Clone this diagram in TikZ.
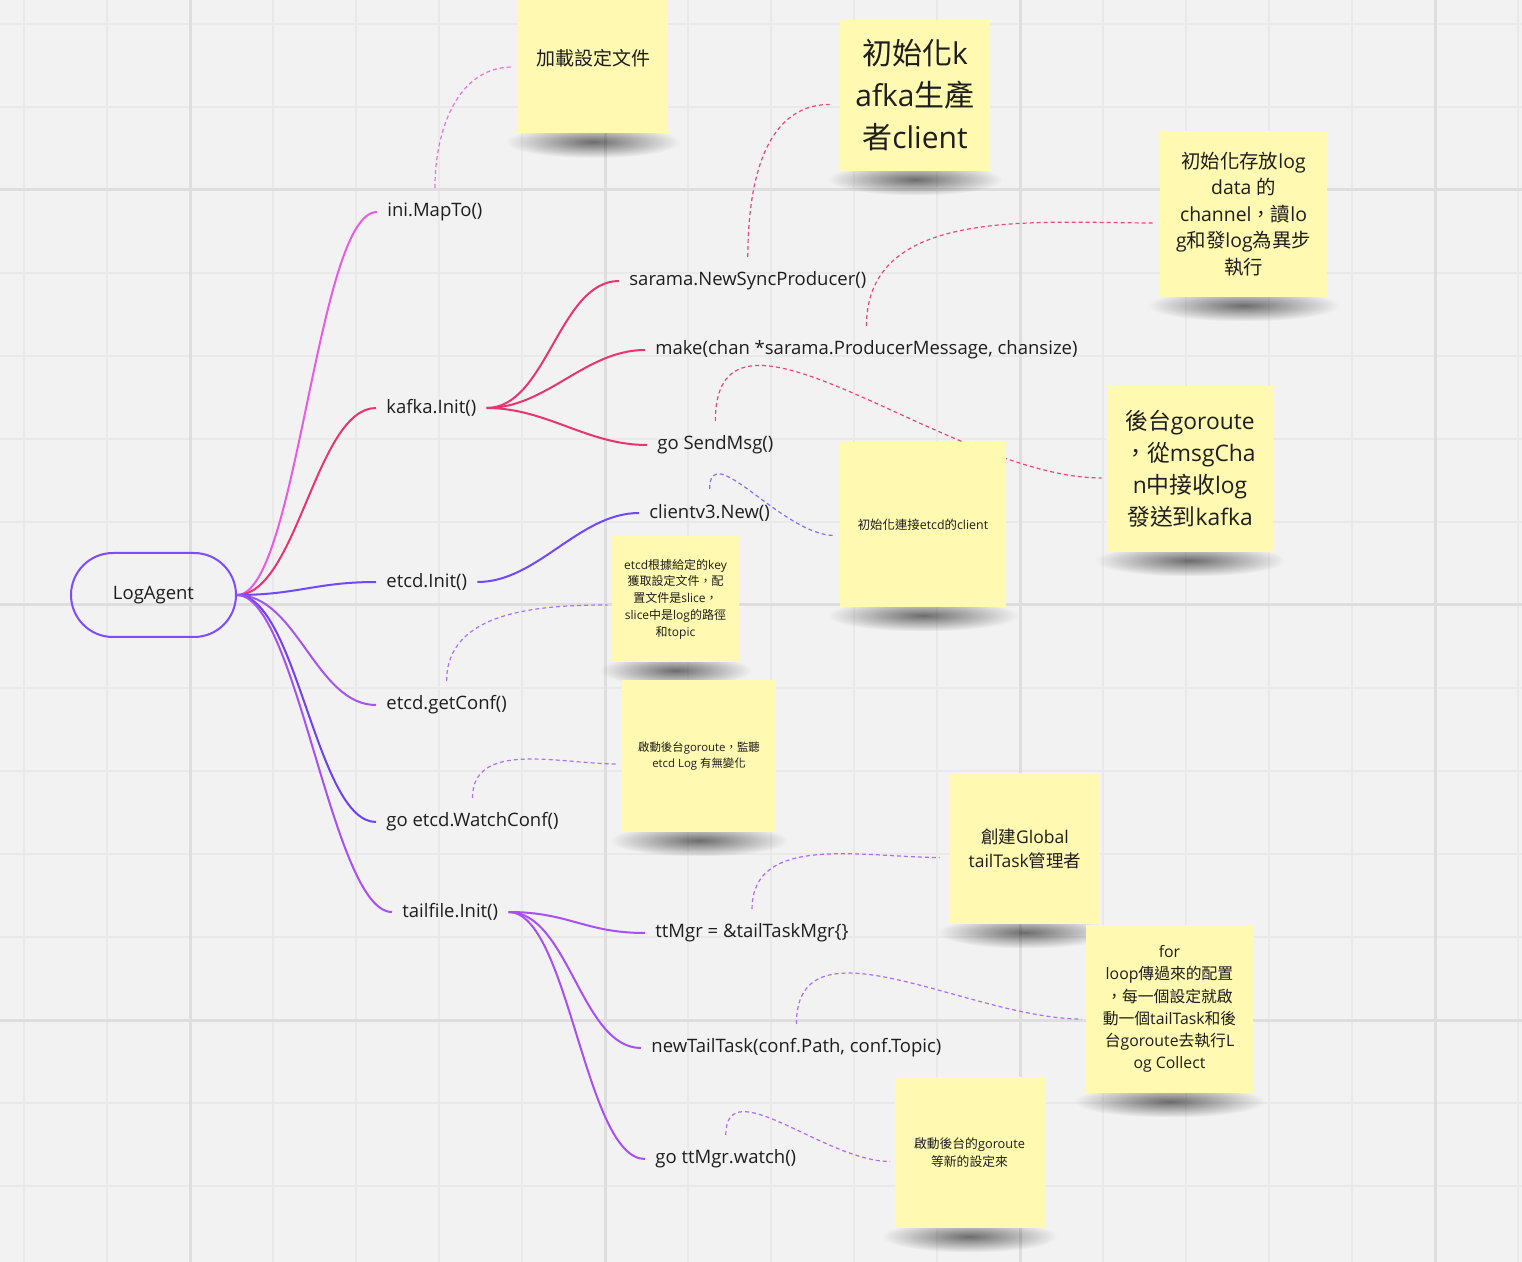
\documentclass[tikz,border=0pt]{standalone}
\usepackage{fontspec}
\setmainfont{Open Sans}
\newfontfamily\cjkfont{Noto Sans CJK TC}
\usepackage{tikz}
\usetikzlibrary{calc,fadings,backgrounds}
\newcommand{\zh}[1]{{\cjkfont #1}}
\definecolor{bgc}{RGB}{242,242,242}
\definecolor{gridmin}{RGB}{233,233,233}
\definecolor{gridmaj}{RGB}{222,222,222}
\definecolor{notey}{RGB}{255,249,177}
\definecolor{txtc}{RGB}{30,30,30}
\definecolor{rootc}{RGB}{123,77,255}
\definecolor{inic}{RGB}{232,91,228}
\definecolor{kafc}{RGB}{234,52,112}
\definecolor{etcc}{RGB}{113,72,255}
\definecolor{confc}{RGB}{163,85,244}
\definecolor{watc}{RGB}{108,66,244}
\definecolor{tailc}{RGB}{168,80,245}
\definecolor{inid}{RGB}{236,110,232}
\definecolor{kafd}{RGB}{236,70,125}
\definecolor{etcd}{RGB}{140,110,250}
\definecolor{confd}{RGB}{170,115,248}
\definecolor{taild}{RGB}{176,108,246}
\tikzfading[name=shadowfade, inner color=transparent!0, outer color=transparent!100]

\begin{document}
\begin{tikzpicture}[
	x=0.5pt, y=-0.5pt,
	font=\fontsize{9.25}{11}\selectfont,
	text=txtc,
	root/.style={draw=rootc, line width=1pt, rounded corners=21pt, minimum width=82.5pt, minimum height=42pt},
	lbl/.style={anchor=west, inner xsep=5pt, inner ysep=2pt},
	note/.style={fill=notey, minimum width=75pt, minimum height=75.5pt, inner sep=2pt, align=center},
	gridline/.style={gridmin, line width=1pt},
	noteshadow/.style={fill=black, opacity=0.55, path fading=shadowfade},
	branch/.style={line width=1pt, to path={.. controls +(30pt,0) and +(-30pt,0) .. (\tikztotarget)}},
	hint/.style={dash pattern=on 2pt off 1.5pt, line width=0.6pt, out=90, in=180},
]
\useasboundingbox (0,0) rectangle (1522,1262);

% mind map
\node[root] (lg) at (153.5,595) {LogAgent};
\node[lbl] (ini) at (377,212) {ini.MapTo()};
\node[lbl] (kafka) at (376,408) {kafka.Init()};
\node[lbl] (etcdinit) at (376,582) {etcd.Init()};
\node[lbl] (getconf) at (376,705) {etcd.getConf()};
\node[lbl] (watchconf) at (376,822) {go etcd.WatchConf()};
\node[lbl] (tailinit) at (392,912) {tailfile.Init()};
\node[lbl] (sarama) at (619,281) {sarama.NewSyncProducer()};
\node[lbl] (mkchan) at (645,350) {make(chan *sarama.ProducerMessage, chansize)};
\node[lbl] (sendmsg) at (647,445) {go SendMsg()};
\node[lbl] (clientnew) at (639,513) {clientv3.New()};
\node[lbl] (ttmgr) at (645,933) {ttMgr = \&tailTaskMgr\{\}};
\node[lbl] (newtask) at (641,1048) {newTailTask(conf.Path, conf.Topic)};
\node[lbl] (ttwatch) at (645,1159) {go ttMgr.watch()};

% sticky notes
\node[note, font=\fontsize{9.5}{12}\selectfont] (nIni) at (593,58) {\zh{加載設定文件}};
\node[note, font=\fontsize{15}{21}\selectfont] (nKafka) at (915,95.5) {\zh{初始化}k\\afka\zh{生產}\\\zh{者}client};
\node[note, minimum width=83.5pt, minimum height=83pt, font=\fontsize{9.7}{13.25}\selectfont] (nChan) at (1243.5,214) {\zh{初始化存放}log\\data \zh{的}\\channel\zh{，讀}lo\\g\zh{和發}log\zh{為異步}\\\zh{執行}};
\node[note, minimum width=83pt, minimum height=83pt, font=\fontsize{11.4}{16}\selectfont] (nSend) at (1190,469) {\zh{後台}goroute\\\zh{，從}msgCha\\n\zh{中接收}log\\\zh{發送到}kafka};
\node[note, minimum width=83pt, minimum height=82.5pt, font=\fontsize{6.2}{8}\selectfont] (nClient) at (923,524.5) {\zh{初始化連接}etcd\zh{的}client};
\node[note, minimum width=63.5pt, minimum height=63pt, font=\fontsize{6}{8.35}\selectfont] (nConf) at (675.5,599) {etcd\zh{根據給定的}key\\\zh{獲取設定文件，配}\\\zh{置文件是}slice\zh{，}\\slice\zh{中是}log\zh{的路徑}\\\zh{和}topic};
\node[note, minimum width=77pt, minimum height=76pt, font=\fontsize{5.7}{8}\selectfont] (nWatch) at (699,756) {\zh{啟動後台}goroute\zh{，監聽}\\etcd Log \zh{有無變化}};
\node[note, font=\fontsize{8.75}{12}\selectfont] (nGlobal) at (1025,848.5) {\zh{創建}Global\\tailTask\zh{管理者}};
\node[note, minimum width=83.5pt, minimum height=84pt, font=\fontsize{7.9}{11.1}\selectfont] (nLoop) at (1169.5,1009) {for\\loop\zh{傳過來的配置}\\\zh{，每一個設定就啟}\\\zh{動一個}tailTask\zh{和後}\\\zh{台}goroute\zh{去執行}L\\og Collect};
\node[note, font=\fontsize{6.4}{9}\selectfont] (nTtw) at (969.5,1152.5) {\zh{啟動後台的}goroute\\\zh{等新的設定來}};

\begin{scope}[on background layer]
\fill[bgc] (0,0) rectangle (1522,1262);
\foreach \k in {0,...,18} \draw[gridline] ({24+83*\k},0) -- ({24+83*\k},1262);
\foreach \k in {0,...,14} \draw[gridline] (0,{24+83*\k}) -- (1522,{24+83*\k});
\foreach \v in {190,605,1020,1435} \draw[gridline, gridmaj, line width=1.5pt] (\v,0) -- (\v,1262);
\foreach \v in {190,605,1020} \draw[gridline, gridmaj, line width=1.5pt] (0,\v) -- (1522,\v);
% shadows under the notes
\foreach \sn in {nIni,nKafka,nChan,nSend,nClient,nConf,nWatch,nGlobal,nLoop,nTtw}
  \fill[noteshadow] let \p1=(\sn.south west), \p2=(\sn.south east) in
    ({\x1-6pt},{\y1+4pt}) rectangle ({\x2+6pt},{\y1-12pt});

% branches
\draw[branch, inic] (lg.east) to (ini.west);
\draw[branch, kafc] (lg.east) to (kafka.west);
\draw[branch, etcc] (lg.east) to (etcdinit.west);
\draw[branch, confc] (lg.east) to (getconf.west);
\draw[branch, watc] (lg.east) to (watchconf.west);
\draw[branch, tailc] (lg.east) to (tailinit.west);
\draw[branch, kafc] (kafka.east) to (sarama.west);
\draw[branch, kafc] (kafka.east) to (mkchan.west);
\draw[branch, kafc] (kafka.east) to (sendmsg.west);
\draw[branch, etcc] (etcdinit.east) to (clientnew.west);
\draw[branch, tailc] (tailinit.east) to (ttmgr.west);
\draw[branch, tailc] (tailinit.east) to (newtask.west);
\draw[branch, tailc] (tailinit.east) to (ttwatch.west);

% dashed links to the notes
\draw[hint, inid] ([yshift=12pt]ini.center) to ([xshift=-2.5pt,yshift=-4.5pt]nIni.west);
\draw[hint, kafd] ([yshift=12pt]sarama.center) to ([xshift=-5pt,yshift=-4.5pt]nKafka.west);
\draw[hint, kafd] ([yshift=12pt]mkchan.center) to ([xshift=-2.5pt,yshift=-4.5pt]nChan.west);
\draw[hint, kafd] ([yshift=12pt]sendmsg.center) to ([xshift=-2.5pt,yshift=-4.5pt]nSend.west);
\draw[hint, etcd] ([yshift=12pt]clientnew.center) to ([xshift=-2.5pt,yshift=-5.5pt]nClient.west);
\draw[hint, confd] ([yshift=12pt]getconf.center) to ([xshift=-2pt,yshift=-3pt]nConf.west);
\draw[hint, confd] ([yshift=12pt]watchconf.center) to ([xshift=-2pt,yshift=-4pt]nWatch.west);
\draw[hint, taild] ([yshift=12pt]ttmgr.center) to ([xshift=-5pt,yshift=-4.5pt]nGlobal.west);
\draw[hint, taild] ([yshift=12pt]newtask.center) to ([xshift=-2pt,yshift=-5pt]nLoop.west);
\draw[hint, taild] ([yshift=12pt]ttwatch.center) to ([xshift=-2pt,yshift=-4.5pt]nTtw.west);
\end{scope}
\end{tikzpicture}
\end{document}
